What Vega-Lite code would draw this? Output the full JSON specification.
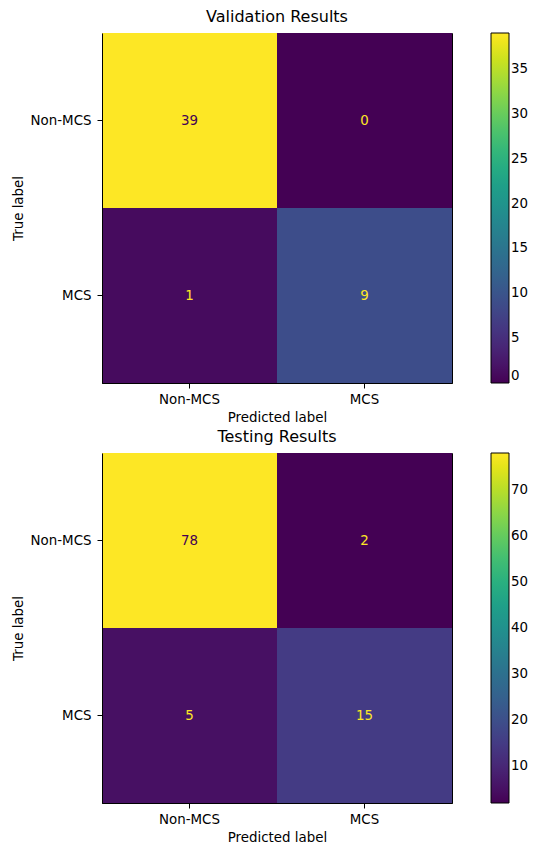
{
  "$schema": "https://vega.github.io/schema/vega-lite/v6.json",
  "padding": {"left": 10, "top": 8, "right": 5, "bottom": 5},
  "background": "white",
  "datasets": {
    "validation": [
      {"true_label": "Non-MCS", "predicted": "Non-MCS", "count": 39},
      {"true_label": "Non-MCS", "predicted": "MCS", "count": 0},
      {"true_label": "MCS", "predicted": "Non-MCS", "count": 1},
      {"true_label": "MCS", "predicted": "MCS", "count": 9}
    ],
    "testing": [
      {"true_label": "Non-MCS", "predicted": "Non-MCS", "count": 78},
      {"true_label": "Non-MCS", "predicted": "MCS", "count": 2},
      {"true_label": "MCS", "predicted": "Non-MCS", "count": 5},
      {"true_label": "MCS", "predicted": "MCS", "count": 15}
    ]
  },
  "vconcat": [
    {
      "title": "Validation Results",
      "width": 350,
      "height": 350,
      "data": {"name": "validation"},
      "encoding": {
        "x": {"field": "predicted", "type": "nominal", "sort": ["Non-MCS", "MCS"], "title": "Predicted label", "axis": {"labelAngle": 0}},
        "y": {"field": "true_label", "type": "nominal", "sort": ["Non-MCS", "MCS"], "title": "True label", "axis": {"labelPadding": 6}}
      },
      "layer": [
        {
          "mark": "rect",
          "encoding": {
            "color": {
              "field": "count", "type": "quantitative",
              "scale": {"scheme": "viridis", "domain": [0, 39]},
              "legend": {"values": [0, 5, 10, 15, 20, 25, 30, 35]}
            }
          }
        },
        {
          "mark": {"type": "text", "fontSize": 13.4, "baseline": "middle"},
          "encoding": {
            "text": {"field": "count", "type": "quantitative"},
            "color": {"condition": {"test": "datum.count > 19.5", "value": "#440154"}, "value": "#fde725"}
          }
        }
      ]
    },
    {
      "title": "Testing Results",
      "width": 350,
      "height": 350,
      "data": {"name": "testing"},
      "encoding": {
        "x": {"field": "predicted", "type": "nominal", "sort": ["Non-MCS", "MCS"], "title": "Predicted label", "axis": {"labelAngle": 0}},
        "y": {"field": "true_label", "type": "nominal", "sort": ["Non-MCS", "MCS"], "title": "True label", "axis": {"labelPadding": 6}}
      },
      "layer": [
        {
          "mark": "rect",
          "encoding": {
            "color": {
              "field": "count", "type": "quantitative",
              "scale": {"scheme": "viridis", "domain": [2, 78]},
              "legend": {"values": [10, 20, 30, 40, 50, 60, 70]}
            }
          }
        },
        {
          "mark": {"type": "text", "fontSize": 13.4, "baseline": "middle"},
          "encoding": {
            "text": {"field": "count", "type": "quantitative"},
            "color": {"condition": {"test": "datum.count > 40", "value": "#440154"}, "value": "#fde725"}
          }
        }
      ]
    }
  ],
  "bounds": "flush",
  "spacing": 70,
  "resolve": {"scale": {"color": "independent"}, "legend": {"color": "independent"}},
  "config": {
    "font": "DejaVu Sans",
    "view": {"stroke": "black", "strokeWidth": 1},
    "title": {"fontSize": 16, "fontWeight": "normal", "color": "black", "offset": 8, "anchor": "middle"},
    "axis": {
      "labelFontSize": 13.4, "titleFontSize": 13.4, "titleFontWeight": "normal",
      "labelColor": "black", "titleColor": "black",
      "domainColor": "black", "tickColor": "black",
      "tickSize": 5, "labelPadding": 4, "titlePadding": 5
    },
    "legend": {
      "orient": "right", "offset": 39, "padding": 0, "title": null,
      "gradientLength": 350, "gradientThickness": 18,
      "gradientStrokeColor": "black", "gradientStrokeWidth": 1,
      "labelFontSize": 13.4, "labelColor": "black", "labelOffset": 9,
      "labelBaseline": "middle", "labelOverlap": false
    }
  }
}
